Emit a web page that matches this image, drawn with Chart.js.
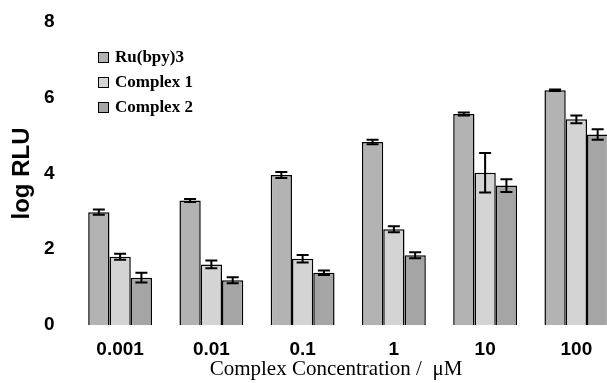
<!DOCTYPE html>
<html>
<head>
<meta charset="utf-8">
<script src="https://cdn.jsdelivr.net/npm/chart.js@4/dist/chart.umd.min.js"></script>
<style>
  html, body { margin: 0; padding: 0; background: #fff; overflow: hidden; }
  #wrap { position: absolute; left: 0; top: 0; width: 622px; height: 383px; }
</style>
</head>
<body>
<div id="wrap"><canvas id="chart" width="622" height="383"></canvas></div>
<script>
// concentrations (uM)
const concentrations = ["0.001", "0.01", "0.1", "1", "10", "100"];

// log RLU
const ruBpy = [2.98, 3.29, 3.96, 4.83, 5.57, 6.20];
const complex1 = [1.80, 1.60, 1.75, 2.53, 4.02, 5.43];
const complex2 = [1.25, 1.18, 1.38, 1.84, 3.68, 5.03];

// error bar half heights
const ruBpyErr = [0.07, 0.04, 0.08, 0.06, 0.04, 0.02];
const complex1Err = [0.08, 0.10, 0.10, 0.08, 0.52, 0.10];
const complex2Err = [0.13, 0.08, 0.06, 0.08, 0.17, 0.14];

const yTicks = [0, 2, 4, 6, 8];

/* draws the error bars on top of each bar using the y scale */
const errorBars = {
    id: "errorBars",
    afterDatasetsDraw(chart) {
        const ctx = chart.ctx;
        const y = chart.scales.y;
        ctx.save();
        ctx.strokeStyle = "#000";
        ctx.lineWidth = 2;
        chart.data.datasets.forEach((ds, i) => {
            const meta = chart.getDatasetMeta(i);
            meta.data.forEach((bar, j) => {
                const v = ds.data[j];
                const e = ds.errors[j];
                const top = y.getPixelForValue(v + e);
                const bot = y.getPixelForValue(v - e);
                const cap = 6;
                ctx.beginPath();
                ctx.moveTo(bar.x, top);
                ctx.lineTo(bar.x, bot);
                ctx.moveTo(bar.x - cap, top);
                ctx.lineTo(bar.x + cap, top);
                ctx.moveTo(bar.x - cap, bot);
                ctx.lineTo(bar.x + cap, bot);
                ctx.stroke();
            });
        });
        ctx.restore();
    }
};

/* legend sits inside the plot, top left, so draw it by hand */
const innerLegend = {
    id: "innerLegend",
    afterDraw(chart) {
        const ctx = chart.ctx;
        ctx.save();
        ctx.font = "bold 17px 'Liberation Serif', serif";
        ctx.textBaseline = "middle";
        chart.data.datasets.forEach((ds, i) => {
            const yy = 57 + i * 25;
            ctx.fillStyle = ds.backgroundColor;
            ctx.fillRect(98, yy - 5, 10, 10);
            ctx.strokeStyle = "#000";
            ctx.lineWidth = 1;
            ctx.strokeRect(98.5, yy - 4.5, 10, 10);
            ctx.fillStyle = "#000";
            ctx.fillText(ds.label, 115, yy + 1);
        });
        ctx.restore();
    }
};

/* x axis title, a serif font like the original */
const xTitle = {
    id: "xTitle",
    afterDraw(chart) {
        const ctx = chart.ctx;
        ctx.save();
        ctx.font = "21px 'Liberation Serif', serif";
        ctx.fillStyle = "#000";
        ctx.textAlign = "center";
        ctx.textBaseline = "middle";
        ctx.fillText("Complex Concentration /  \u03bcM", 336, 369);
        ctx.restore();
    }
};

new Chart(document.getElementById("chart"), {
    type: "bar",
    data: {
        labels: concentrations,
        datasets: [{
            label: "Ru(bpy)3",
            data: ruBpy,
            errors: ruBpyErr,
            backgroundColor: "#b3b3b3",
        }, {
            label: "Complex 1",
            data: complex1,
            errors: complex1Err,
            backgroundColor: "#d4d4d4",
        }, {
            label: "Complex 2",
            data: complex2,
            errors: complex2Err,
            backgroundColor: "#a5a5a5",
        }]
    },
    options: {
        responsive: false,
        animation: false,
        layout: { padding: { top: 22, right: 0, left: 0, bottom: 0 } },
        datasets: {
            bar: {
                borderColor: "#000",
                borderWidth: 1.5,
                categoryPercentage: 0.7,
                barPercentage: 1.0,
            }
        },
        plugins: {
            legend: { display: false },
            tooltip: { enabled: false },
        },
        scales: {
            x: {
                grid: { display: false, drawTicks: false },
                border: { display: false },
                ticks: {
                    color: "#000",
                    font: { family: "'Liberation Sans', Arial", size: 19, weight: "bold" },
                    padding: 13,
                    maxRotation: 0,
                },
                afterFit: (s) => { s.height = 58; },
            },
            y: {
                min: 0,
                max: 8,
                afterBuildTicks: (s) => { s.ticks = yTicks.map(v => ({ value: v })); },
                grid: { display: false, drawTicks: false },
                border: { display: false },
                ticks: {
                    color: "#000",
                    font: { family: "'Liberation Sans', Arial", size: 19, weight: "bold" },
                    padding: 20,
                },
                title: {
                    display: true,
                    text: "log RLU",
                    color: "#000",
                    font: { family: "'Liberation Sans', Arial", size: 24, weight: "bold" },
                    padding: { top: 8, bottom: 0 },
                },
                // fixed width, and no extra room above the top label
                afterFit: (s) => {
                    s.width = 74.5;
                    s.paddingTop = 0;
                    s.paddingBottom = 0;
                },
            }
        }
    },
    plugins: [errorBars, innerLegend, xTitle]
});
</script>
</body>
</html>
